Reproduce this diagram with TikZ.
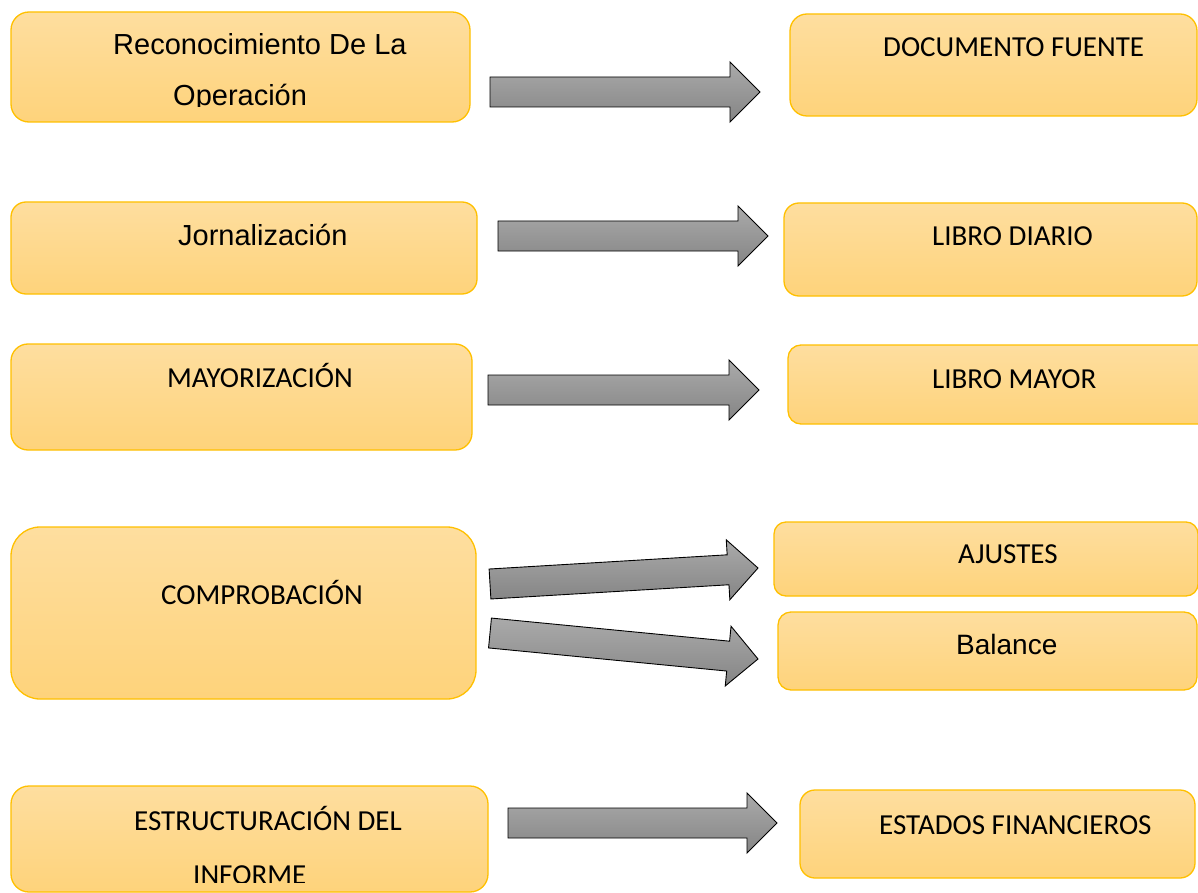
\documentclass[tikz,border=0pt]{standalone}
\usepackage{fontspec}
\usetikzlibrary{calc}
\newfontfamily\arialf{Liberation Sans}
\newfontfamily\calibrif{Carlito}
\definecolor{boxtop}{HTML}{FEDE9F}
\definecolor{boxbot}{HTML}{FED37B}
\definecolor{boxline}{HTML}{FFC000}
\definecolor{arrtop}{HTML}{AAAAAA}
\definecolor{arrbot}{HTML}{858585}
\tikzset{
  box/.style={draw=boxline, line width=1.3pt, top color=boxtop, bottom color=boxbot, inner sep=0pt, outer sep=0pt},
  lblA/.style={inner sep=0pt, anchor=base west, font=\arialf\fontsize{29}{35}\selectfont},
  lblB/.style={inner sep=0pt, anchor=base west, font=\calibrif\fontsize{29}{35}\selectfont},
  arr/.style={draw=black, line width=0.9pt, line join=miter, top color=arrtop, bottom color=arrbot}
}
\newcommand\ybox[6]{\node[box, rounded corners=#6pt, minimum width={(#4-#2)*1pt}, minimum height={(#5-#3)*1pt}] (#1) at ({(#2+#4)/2},{(#3+#5)/2}) {};}
\newcommand\blockarrow[3]{% #1 tail, #2 tip, #3 name of head base
  \coordinate (#3) at ($(#2)!30pt!(#1)$);
  \draw[arr] ($(#1)!15pt!90:(#2)$) -- ($(#3)!15pt!90:(#2)$) -- ($(#3)!30pt!90:(#2)$) -- (#2)
    -- ($(#3)!30pt!-90:(#2)$) -- ($(#3)!15pt!-90:(#2)$) -- ($(#1)!15pt!-90:(#2)$) -- cycle;}
\begin{document}
\begin{tikzpicture}[x=1pt,y=-1pt]
\clip (0,0) rectangle (1198,893);
\fill[white] (0,0) rectangle (1198,893);
% boxes
\ybox{b1}{11}{12}{470}{122}{18}
\ybox{b2}{790}{14}{1197}{116}{17}
\ybox{b3}{11}{202}{477}{294}{15}
\ybox{b4}{784}{203}{1197}{296}{15}
\ybox{b5}{11}{344}{472}{450}{17}
\ybox{b6}{788}{345}{1212}{424}{13}
\ybox{b7}{11}{527}{476}{699}{29}
\ybox{b8}{774}{522}{1198}{596}{12}
\ybox{b9}{778}{612}{1197}{690}{13}
\ybox{b10}{11}{786}{488}{892}{18}
\ybox{b11}{800}{790}{1195}{878}{15}
% labels
\node[lblA] (t1a) at (113,55) {Reconocimiento De La};
\begin{scope}
\clip (0,0) rectangle (1198,107);
\node[lblA] (t1b) at (173,106) {Operación};
\end{scope}
\node[lblB] (t2) at (883,57) {DOCUMENTO FUENTE};
\node[lblA] (t3) at (178,245) {Jornalización};
\node[lblB] (t4) at (932,246) {LIBRO DIARIO};
\node[lblB] (t5) at (167,387) {MAYORIZACIÓN};
\node[lblB] (t6) at (932,388) {LIBRO MAYOR};
\node[lblB] (t7) at (161,604) {COMPROBACIÓN};
\node[lblB] (t8) at (958,563) {AJUSTES};
\node[lblA, font=\arialf\fontsize{28}{34}\selectfont] (t9) at (956,654) {Balance};
\node[lblB] (t10a) at (134,830) {ESTRUCTURACIÓN DEL};
\begin{scope}
\clip (0,0) rectangle (1198,882);
\node[lblB] (t10b) at (193,884) {INFORME};
\end{scope}
\node[lblB] (t11) at (879,834) {ESTADOS FINANCIEROS};
% arrows
\coordinate (a1s) at (490,92);  \coordinate (a1e) at (760,92);
\coordinate (a2s) at (498,236); \coordinate (a2e) at (768,236);
\coordinate (a3s) at (488,390); \coordinate (a3e) at (759,390);
\coordinate (a4s) at (490,584); \coordinate (a4e) at (758,568);
\coordinate (a5s) at (490,633); \coordinate (a5e) at (758,659);
\coordinate (a6s) at (508,823); \coordinate (a6e) at (777,823);
\blockarrow{a1s}{a1e}{a1h}
\blockarrow{a2s}{a2e}{a2h}
\blockarrow{a3s}{a3e}{a3h}
\blockarrow{a4s}{a4e}{a4h}
\blockarrow{a5s}{a5e}{a5h}
\blockarrow{a6s}{a6e}{a6h}
\end{tikzpicture}
\end{document}
